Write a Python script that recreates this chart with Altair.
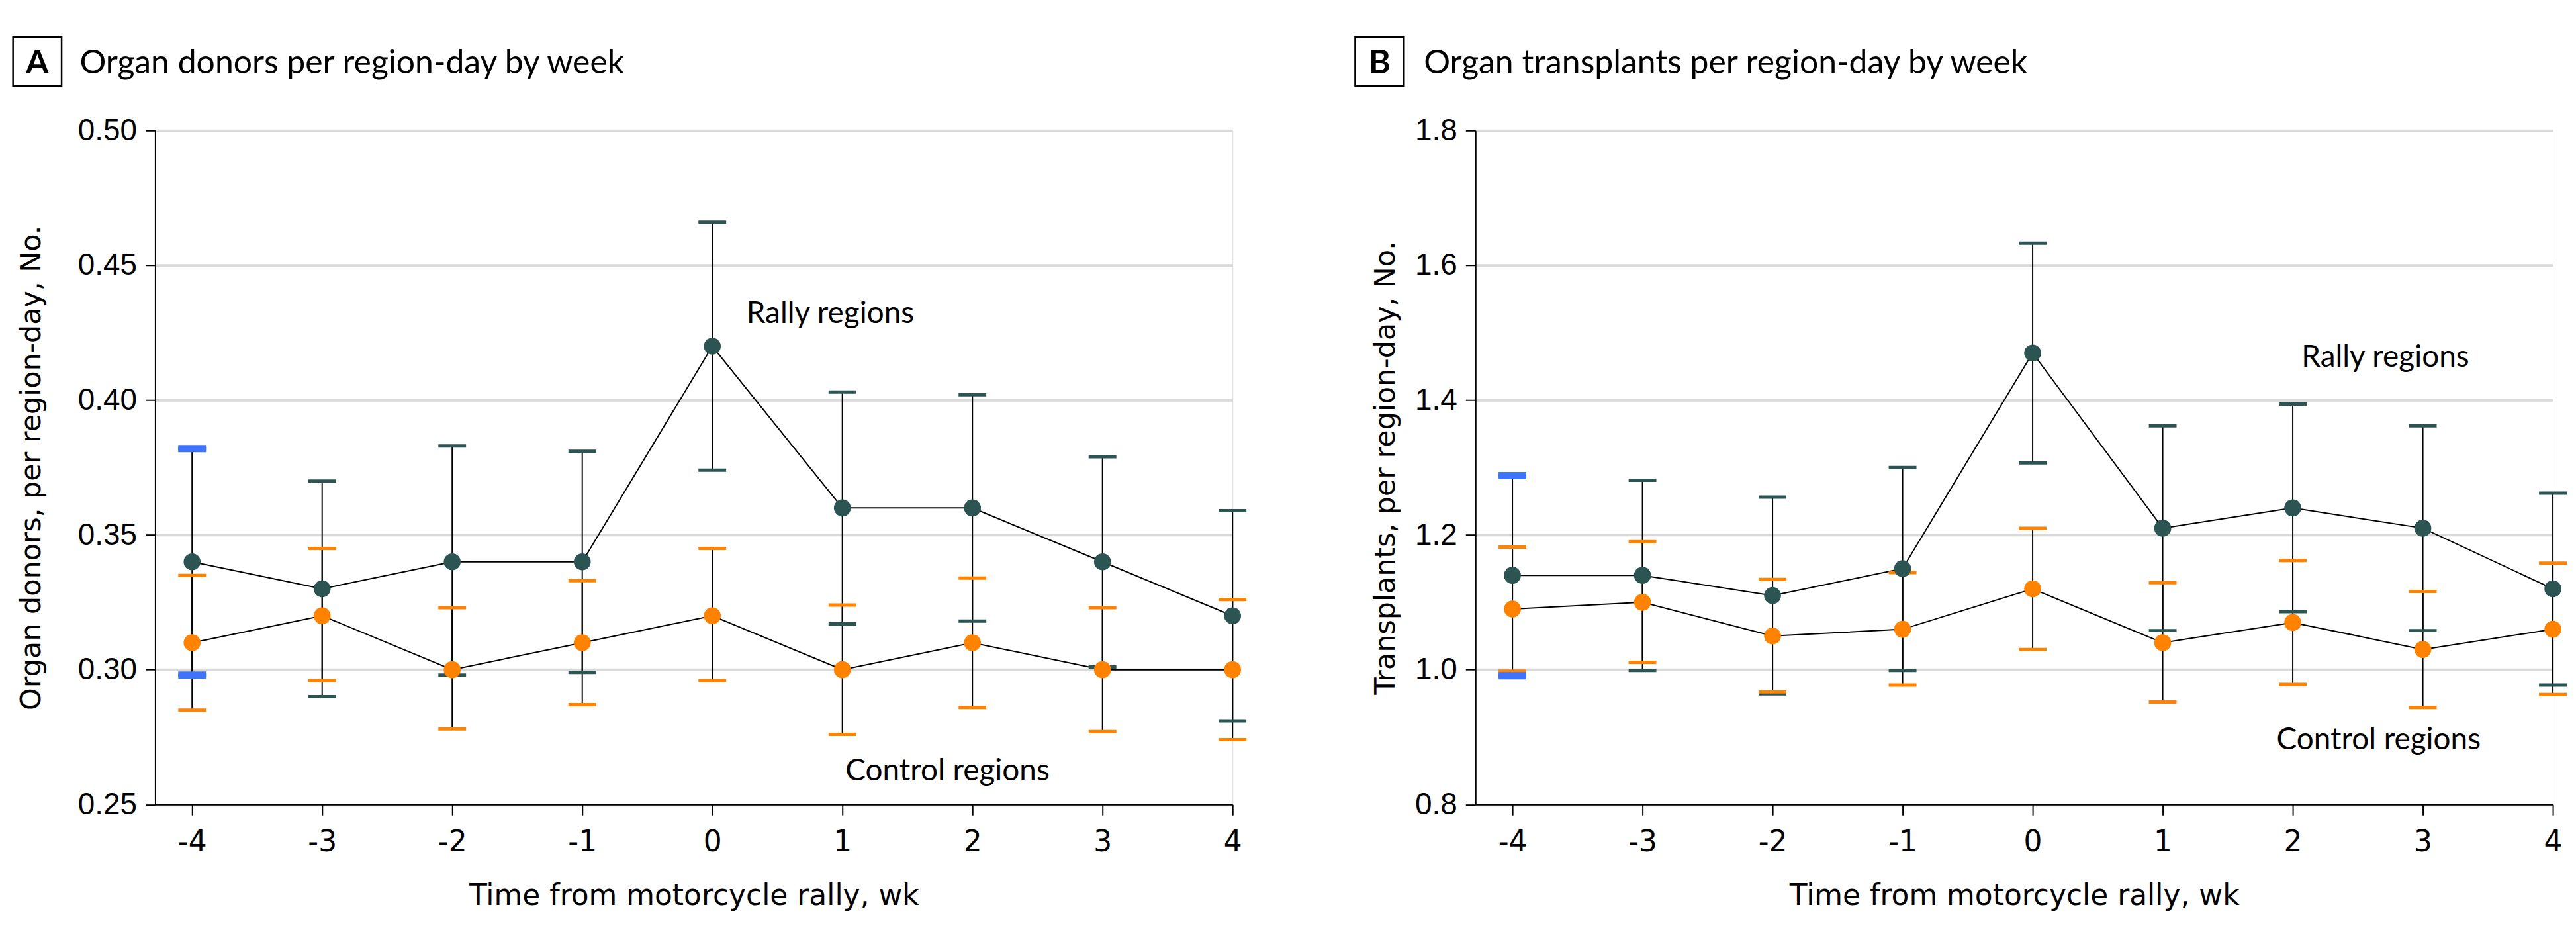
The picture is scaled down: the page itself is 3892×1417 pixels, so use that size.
import altair as alt
import pandas as pd

weeks = [-4, -3, -2, -1, 0, 1, 2, 3, 4]
series_names = ["Rally regions", "Control regions"]

# Panel A: organ donors per region-day
a_rally = [0.34, 0.33, 0.34, 0.34, 0.42, 0.36, 0.36, 0.34, 0.32]
a_rally_lo = [0.298, 0.290, 0.298, 0.299, 0.374, 0.317, 0.318, 0.301, 0.281]
a_rally_hi = [0.382, 0.370, 0.383, 0.381, 0.466, 0.403, 0.402, 0.379, 0.359]
a_ctrl = [0.31, 0.32, 0.30, 0.31, 0.32, 0.30, 0.31, 0.30, 0.30]
a_ctrl_lo = [0.285, 0.296, 0.278, 0.287, 0.296, 0.276, 0.286, 0.277, 0.274]
a_ctrl_hi = [0.335, 0.345, 0.323, 0.333, 0.345, 0.324, 0.334, 0.323, 0.326]

# Panel B: organ transplants per region-day
b_rally = [1.14, 1.14, 1.11, 1.15, 1.47, 1.21, 1.24, 1.21, 1.12]
b_rally_lo = [0.991, 0.999, 0.964, 0.999, 1.307, 1.058, 1.086, 1.058, 0.977]
b_rally_hi = [1.288, 1.281, 1.256, 1.300, 1.633, 1.362, 1.394, 1.362, 1.262]
b_ctrl = [1.09, 1.10, 1.05, 1.06, 1.12, 1.04, 1.07, 1.03, 1.06]
b_ctrl_lo = [0.998, 1.011, 0.967, 0.977, 1.030, 0.952, 0.978, 0.944, 0.963]
b_ctrl_hi = [1.182, 1.190, 1.134, 1.144, 1.210, 1.129, 1.162, 1.116, 1.158]

a_ticks = [0.25, 0.30, 0.35, 0.40, 0.45, 0.50]
b_ticks = [0.8, 1.0, 1.2, 1.4, 1.6, 1.8]

a_labels = ["Rally regions", "Control regions"]
a_label_x = [0.262, 1.023]
a_label_y = [0.4286, 0.2589]
b_labels = ["Rally regions", "Control regions"]
b_label_x = [2.067, 1.875]
b_label_y = [1.4494, 0.8814]

DARK = "#2b5452"
ORANGE = "#ff8200"
BLUE = "#3f73fa"


def make_df(r, rlo, rhi, c, clo, chi):
    rows = []
    for i, w in enumerate(weeks):
        rows.append({"week": w, "series": series_names[0], "mean": r[i], "lo": rlo[i], "hi": rhi[i]})
    for i, w in enumerate(weeks):
        rows.append({"week": w, "series": series_names[1], "mean": c[i], "lo": clo[i], "hi": chi[i]})
    return pd.DataFrame(rows)


def panel(df, letter, title, ytitle, ydomain, yticks, yfmt, ytitle_x,
          labels, lx, ly, box_x, box_x2, letter_x, title_x):
    xscale = alt.Scale(domain=[-4.284, 4], nice=False, zero=False)
    yscale = alt.Scale(domain=ydomain, nice=False, zero=False)
    xaxis = alt.Axis(values=weeks, labelExpr="toString(datum.value)",
                     title="Time from motorcycle rally, wk",
                     grid=False, domainColor="black", domainWidth=2, tickColor="black",
                     tickWidth=2, tickSize=16, labelPadding=19, labelFlush=False,
                     labelOverlap=False, labelFont="DejaVu Sans", labelFontSize=44,
                     labelColor="black", titleFont="DejaVu Sans", titleFontSize=44,
                     titleFontWeight="normal", titleColor="black", titleY=139,
                     titleBaseline="middle")
    yaxis = alt.Axis(values=yticks, format=yfmt, title=ytitle, grid=True,
                     gridColor="#d9d9d9", gridWidth=4, domainColor="black",
                     domainWidth=2, tickColor="black", tickWidth=2, tickSize=15,
                     labelPadding=13, labelFont="Liberation Sans", labelFontSize=46,
                     labelColor="black", titleFont="DejaVu Sans", titleFontSize=43,
                     titleFontWeight="normal", titleColor="black", titleX=ytitle_x,
                     titleY=510.3, titleBaseline="middle", titleAngle=-90)

    def X(f):
        return alt.X(f, type="quantitative", scale=xscale, axis=xaxis)

    def Y(f):
        return alt.Y(f, type="quantitative", scale=yscale, axis=yaxis)

    color = alt.Color("series:N", scale=alt.Scale(domain=series_names, range=[DARK, ORANGE]),
                      legend=None)
    base = alt.Chart(df)
    bars = base.mark_rule(color="black", strokeWidth=2).encode(x=X("week"), y=Y("lo"), y2="hi")
    line = base.mark_line(color="black", strokeWidth=2).encode(
        x=X("week"), y=Y("mean"), detail="series:N")
    caps = base.transform_fold(["lo", "hi"], as_=["bound", "val"]).mark_tick(
        orient="horizontal", size=42, thickness=5, opacity=1).encode(
        x=X("week"), y=Y("val"), color=color)
    blue = base.transform_fold(["lo", "hi"], as_=["bound", "val"]).transform_filter(
        "datum.week == -4 && datum.series == 'Rally regions'").mark_tick(
        orient="horizontal", size=42, thickness=11, opacity=1, color=BLUE).encode(
        x=X("week"), y=Y("val"))
    pts = base.mark_circle(size=660, opacity=1).encode(x=X("week"), y=Y("mean"), color=color)

    ann_df = pd.DataFrame({"lx": lx, "ly": ly, "txt": labels})
    ann = alt.Chart(ann_df).mark_text(align="left", baseline="alphabetic", font="Lato",
                                      fontSize=46, color="black").encode(
        x=X("lx"), y=Y("ly"), text="txt:N")

    one = alt.Chart(pd.DataFrame({"k": [0]}))
    box = one.mark_rect(filled=False, stroke="black", strokeWidth=2.5).encode(
        x=alt.value(box_x), x2=alt.value(box_x2), y=alt.value(-141.4), y2=alt.value(-67.7))
    let = one.mark_text(text=letter, font="Lato", fontWeight="bold", fontSize=50,
                        align="center", baseline="alphabetic", color="black").encode(
        x=alt.value(letter_x), y=alt.value(-87))
    ttl = one.mark_text(text=title, font="Lato", fontSize=50, align="left",
                        baseline="alphabetic", color="black").encode(
        x=alt.value(title_x), y=alt.value(-87))

    return alt.layer(bars, line, caps, blue, pts, ann, box, let, ttl).properties(
        width=1632, height=1020.6)


df_a = make_df(a_rally, a_rally_lo, a_rally_hi, a_ctrl, a_ctrl_lo, a_ctrl_hi)
df_b = make_df(b_rally, b_rally_lo, b_rally_hi, b_ctrl, b_ctrl_lo, b_ctrl_hi)

pa = panel(df_a, "A", "Organ donors per region-day by week",
           "Organ donors, per region-day, No.", [0.25, 0.50], a_ticks, ".2f", -187,
           a_labels, a_label_x, a_label_y, -215.3, -141.7, -178.5, -114.3)
pb = panel(df_b, "B", "Organ transplants per region-day by week",
           "Transplants, per region-day, No.", [0.8, 1.8], b_ticks, ".1f", -136,
           b_labels, b_label_x, b_label_y, -182.3, -108.3, -145.3, -78.3)

chart = alt.hconcat(pa, pb, spacing=161).properties(
    padding={"left": 9, "top": 44, "right": 5, "bottom": 5}
).configure_view(stroke=None).configure(background="white")

chart.save("out.html", embed_options={"renderer": "svg", "actions": False})
